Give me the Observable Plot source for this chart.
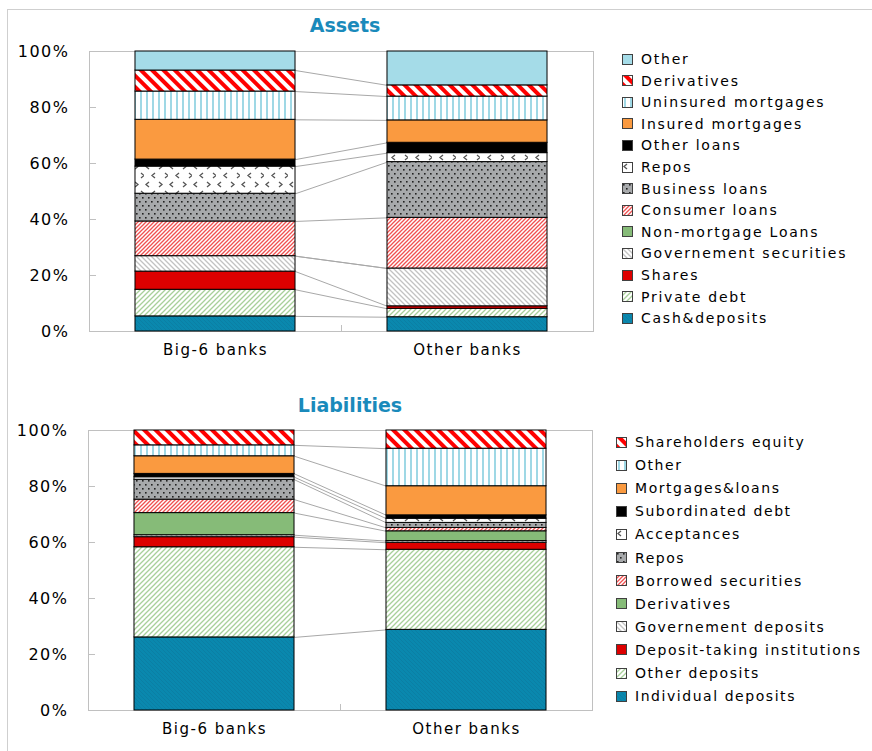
<!DOCTYPE html>
<html>
<head>
<meta charset="utf-8">
<script src="https://cdn.jsdelivr.net/npm/d3@7"></script>
<script src="https://cdn.jsdelivr.net/npm/@observablehq/plot@0.6"></script>
<style>
  body { margin: 0; background: #fff; }
  #chart { position: relative; width: 872px; height: 751px; overflow: hidden; background: #fff; font-family: "DejaVu Sans", sans-serif; }
  .border { position: absolute; left: 7px; top: 9px; width: 920px; height: 820px; border: 1px solid #cfcfcf; box-sizing: border-box; }
  .title { position: absolute; font-weight: bold; font-size: 19px; color: #1a8abb; transform: translate(-50%, -50%); white-space: nowrap; }
  .panel { position: absolute; left: 0; }
  .panel svg text { letter-spacing: 1.5px; }
  .item { position: absolute; height: 16px; display: flex; align-items: center; white-space: nowrap; font-size: 14px; letter-spacing: 1.75px; color: #000; }
  .item.tight { letter-spacing: 1.55px; }
  .item svg { margin-right: 8px; flex: none; }
  #defs { position: absolute; width: 0; height: 0; }
</style>
</head>
<body>
<div id="chart">
  <div class="border"></div>
  <svg id="defs" width="0" height="0" aria-hidden="true">
    <defs>
      <pattern id="p-teal" patternUnits="userSpaceOnUse" width="4" height="4">
        <rect width="4" height="4" fill="#0a88ae"/>
        <path d="M-1,3 l2,2 M0,0 l4,4 M3,-1 l2,2" stroke="#0b7fa4" stroke-width="1"/>
      </pattern>
      <pattern id="p-green-diag" patternUnits="userSpaceOnUse" width="5" height="5">
        <rect width="5" height="5" fill="#fff"/>
        <path d="M-1,1 l2,-2 M0,5 l5,-5 M4,6 l2,-2" stroke="#a8d09a" stroke-width="1.3"/>
      </pattern>
      <pattern id="p-gray-diag" patternUnits="userSpaceOnUse" width="5" height="5">
        <rect width="5" height="5" fill="#fff"/>
        <path d="M-1,4 l2,2 M0,0 l5,5 M4,-1 l2,2" stroke="#c2c2c2" stroke-width="1.3"/>
      </pattern>
      <pattern id="p-red-diag" patternUnits="userSpaceOnUse" width="4" height="4">
        <rect width="4" height="4" fill="#fff"/>
        <path d="M-1,1 l2,-2 M0,4 l4,-4 M3,5 l2,-2" stroke="#f05050" stroke-width="1.3"/>
      </pattern>
      <pattern id="p-dots" patternUnits="userSpaceOnUse" width="6" height="8">
        <rect width="6" height="8" fill="#a7a9ab"/>
        <rect x="1" y="1" width="1.6" height="1.6" fill="#222"/>
        <rect x="4" y="5" width="1.6" height="1.6" fill="#222"/>
      </pattern>
      <pattern id="p-chev" patternUnits="userSpaceOnUse" width="24" height="18">
        <rect width="24" height="18" fill="#fff"/>
        <path d="M5,2 l-3,2.5 l3,2.5 M15,2 l3,2.5 l-3,2.5 M11,11 l-3,2.5 l3,2.5 M21,11 l3,2.5 l-3,2.5" stroke="#555" stroke-width="1.3" fill="none"/>
      </pattern>
      <pattern id="p-vert-blue" patternUnits="userSpaceOnUse" width="6" height="6">
        <rect width="6" height="6" fill="#fff"/>
        <rect x="2" width="2" height="6" fill="#9fd8e5"/>
      </pattern>
      <pattern id="p-big-red" patternUnits="userSpaceOnUse" width="8" height="8" patternTransform="rotate(-45)">
        <rect width="8" height="8" fill="#fff"/>
        <rect width="4" height="8" fill="#ff0000"/>
      </pattern>
    </defs>
  </svg>
  <div class="title" style="left:345px;top:25px">Assets</div>
  <div class="title" style="left:350px;top:405px">Liabilities</div>
  <div class="panel" id="assets" style="top:0px"></div>
  <div class="panel" id="liabilities" style="top:379px"></div>
</div>
<script>
// Bank groups on the x axis
const banks = ["Big-6 banks", "Other banks"];

// Asset composition, % of total, listed from the bottom of each bar upwards
const assetCategories = [
  "Cash&deposits", "Private debt", "Shares", "Governement securities", "Non-mortgage Loans",
  "Consumer loans", "Business loans", "Repos", "Other loans", "Insured mortgages",
  "Uninsured mortgages", "Derivatives", "Other"
];
const assetsBig6  = [5.4, 9.5, 6.5, 5.5, 0, 12.4, 9.9, 9.7, 2.5, 14.2, 10.1, 7.5, 6.8];
const assetsOther = [5.1, 3.0, 0.9, 13.5, 0, 18.1, 19.9, 3.2, 3.7, 8.0, 8.5, 4.0, 12.1];

// Liability composition, % of total, listed from the bottom of each bar upwards
const liabilityCategories = [
  "Individual deposits", "Other deposits", "Deposit-taking institutions", "Governement deposits",
  "Derivatives", "Borrowed securities", "Repos", "Acceptances", "Subordinated debt",
  "Mortgages&loans", "Other", "Shareholders equity"
];
const liabilitiesBig6  = [26.1, 32.2, 3.6, 0.7, 7.9, 4.8, 7.1, 0.9, 1.2, 6.3, 3.9, 5.3];
const liabilitiesOther = [28.8, 28.6, 2.5, 0.6, 3.5, 1.2, 1.8, 1.5, 1.2, 10.4, 13.4, 6.5];

// Y-axis tick values (percent)
const yTicks = [0, 20, 40, 60, 80, 100];

// Fill for each stack level (shared by both panels)
const fills = [
  "url(#p-teal)", "url(#p-green-diag)", "#dd0000", "url(#p-gray-diag)", "#86bb78",
  "url(#p-red-diag)", "url(#p-dots)", "url(#p-chev)", "#000000", "#fa9a40",
  "url(#p-vert-blue)", "url(#p-big-red)", "#a5dce8"
];

const HALF = 0.3175; // half bar width, in category units

function panel(categories, big6, other, left, right) {
  const rows = [];
  [big6, other].forEach((vals, b) => {
    let acc = 0;
    vals.forEach((v, i) => {
      if (v > 0) rows.push({b, category: categories[i], y1: acc, y2: acc + v, fill: fills[i]});
      acc += v;
    });
  });
  const cb = d3.cumsum(big6), co = d3.cumsum(other);
  const links = d3.range(categories.length - 1).map(i => ({y1: cb[i], y2: co[i]}));
  const W = 600, plotW = right - left;
  return Plot.plot({
    width: W, height: 370,
    marginLeft: left, marginRight: W - right, marginTop: 51, marginBottom: 39,
    x: {domain: [0, 2], axis: null},
    y: {domain: [0, 100], axis: null},
    color: {type: "identity"},
    style: {fontFamily: "DejaVu Sans, sans-serif", fontSize: "15px", color: "#000", background: "transparent", overflow: "visible"},
    marks: [
      Plot.frame({stroke: "#c0c0c0"}),
      Plot.tickY(yTicks, {y: d => d, stroke: "#c0c0c0", insetRight: plotW - 7}),
      Plot.tickX([1], {x: d => d, stroke: "#c0c0c0", insetTop: 274}),
      Plot.axisY({ticks: yTicks, tickFormat: d => d + "%", tickSize: 0, tickPadding: 20, fontSize: 16}),
      Plot.axisX({ticks: [0.5, 1.5], tickFormat: d => banks[Math.floor(d)], tickSize: 0, tickPadding: 13}),
      Plot.link(links, {x1: () => 0.5 + HALF, x2: () => 1.5 - HALF, y1: "y1", y2: "y2", stroke: "#a8a8a8", strokeWidth: 1}),
      Plot.rect(rows, {x1: d => d.b + 0.5 - HALF, x2: d => d.b + 0.5 + HALF, y1: "y1", y2: "y2", fill: "fill", stroke: "#000", strokeWidth: 1})
    ]
  });
}

function legend(categories, x, y0, step, extraClass) {
  const chart = document.getElementById("chart");
  categories.map((c, i) => ({c, i})).reverse().forEach(({c, i}, k) => {
    const div = document.createElement("div");
    div.className = "item" + (extraClass ? " " + extraClass : "");
    div.style.left = x + "px";
    div.style.top = (y0 + k * step - 8) + "px";
    div.innerHTML = `<svg width="11" height="11"><rect x="0.5" y="0.5" width="10" height="10" fill="${fills[i]}" stroke="#404040" stroke-width="1"/></svg><span>${c}</span>`;
    chart.appendChild(div);
  });
}

document.getElementById("assets").appendChild(panel(assetCategories, assetsBig6, assetsOther, 89, 593));
document.getElementById("liabilities").appendChild(panel(liabilityCategories, liabilitiesBig6, liabilitiesOther, 88, 592));
legend(assetCategories, 622, 59, 21.6);
legend(liabilityCategories, 616, 442, 23.1, "tight");
</script>
</body>
</html>
